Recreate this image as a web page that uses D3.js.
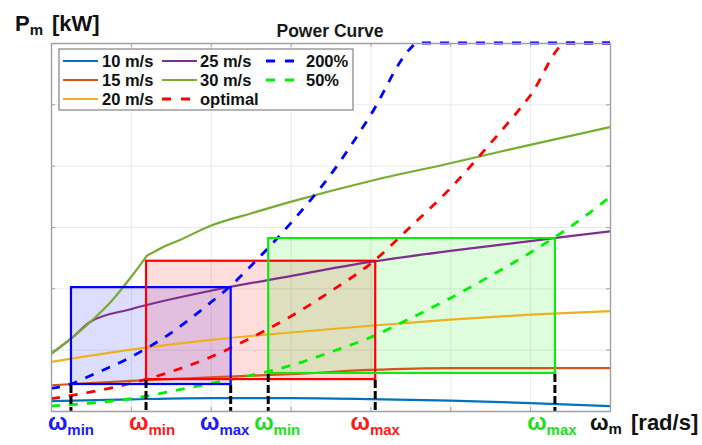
<!DOCTYPE html>
<html>
<head>
<meta charset="utf-8">
<script src="https://cdn.jsdelivr.net/npm/d3@7"></script>
<style>
  body { margin: 0; background: #fff; }
  svg { display: block; font-family: "Liberation Sans", Arial, sans-serif; }
</style>
</head>
<body>
<svg id="chart" width="702" height="445"></svg>
<script>
// ---- power curves at constant wind speed: rotor speed ω [rad/s] vs power [kW] ----
const speedLabels = ["10 m/s", "15 m/s", "20 m/s", "25 m/s", "30 m/s"];

const omegaGrid = [0, 10, 20, 30, 40, 50, 60, 70];
const p10 = [16, 19, 21, 21, 19.5, 17, 13, 8];
const p15 = [42, 49, 55, 60, 67, 70, 70, 70];
const p20 = [80, 100, 116, 128, 139, 149, 157, 163];

const omega25 = [0, 2.5, 5, 10, 20, 30, 40, 50, 60, 70];
const p25 = [93, 118, 146, 166, 196, 220, 243, 261, 277, 293];

const omega30 = [0, 2.5, 5, 7.5, 10, 12, 14, 16, 20, 25, 30, 40, 50, 60, 70];
const p30 = [93, 118, 146, 178, 218, 253, 267, 278, 302, 322, 341, 375, 404, 434, 463];
const kink30 = 12; // ω where the 30 m/s curve changes regime

// ---- optimal tracking curve and its 200% / 50% variants (capped at rated power) ----
const refLabels = ["optimal", "200%", "50%"];

const omegaOpt = [0, 5, 10, 15, 20, 25, 30, 35, 40, 45, 50, 55, 60, 64.6, 70];
const pOpt = [20, 31, 45, 64, 88, 119, 154, 195, 240, 300, 363, 436, 514, 600, 600];

const omega200 = [0, 2.5, 5, 10, 15, 20, 22.5, 25, 30, 35, 40, 45, 45.8, 70];
const p200 = [37, 44, 58, 88, 127, 177, 204, 236, 306, 385, 482, 591, 600, 600];

const omega50 = [0, 5, 10, 15, 20, 25, 30, 35, 40, 45, 50, 55, 60, 65, 70];
const p50 = [8, 13, 20, 32, 45, 58, 74, 96, 120, 151, 184, 220, 258, 300, 349];

// ---- operating windows (one per reference curve: 200%, optimal, 50%) ----
const windowNames = ["200%", "optimal", "50%"];
const wMin = [2.5, 11.9, 27.2];
const wMax = [22.5, 40.6, 63.1];
const pLow = [44, 52, 62];
const pHigh = [202, 245, 282];

// ---- axis ranges and gridlines ----
const omegaDomain = [0, 70];
const powerDomain = [0, 600];
const omegaTicks = [0, 10, 20, 30, 40, 50, 60, 70];
const powerTicks = [0, 100, 200, 300, 400, 500, 600];

// ---------------------------------------------------------------
const svg = d3.select("#chart");
const L = 51, R = 610, T = 43, B = 411;
const x = d3.scaleLinear().domain(omegaDomain).range([L, R]);
const y = d3.scaleLinear().domain(powerDomain).range([B, T]);

const colors = {
  "10 m/s": "#0072BD", "15 m/s": "#D95319", "20 m/s": "#EDB120",
  "25 m/s": "#7E2F8E", "30 m/s": "#77AC30",
  "optimal": "#ff0000", "200%": "#0000ff", "50%": "#00f000"
};
const labelColors = { "optimal": "#ff1a1a", "200%": "#1a1aff", "50%": "#22dd22" };

// gridlines
const grid = svg.append("g");
grid.append("g").attr("transform", `translate(0,${B})`)
  .call(d3.axisBottom(x).tickValues(omegaTicks).tickSize(-(B - T)).tickFormat(""));
grid.append("g").attr("transform", `translate(${L},0)`)
  .call(d3.axisLeft(y).tickValues(powerTicks).tickSize(-(R - L)).tickFormat(""));
grid.selectAll(".domain").remove();
grid.selectAll(".tick line").attr("stroke", "#e9e9e9").attr("stroke-width", 1);

// clip for the data curves
svg.append("defs").append("clipPath").attr("id", "plotclip")
  .append("rect").attr("x", L).attr("y", T - 4).attr("width", R - L).attr("height", B - T + 4);

// window fills
const fills = svg.append("g");
windowNames.forEach((n, i) => {
  fills.append("rect")
    .attr("x", x(wMin[i])).attr("y", y(pHigh[i]))
    .attr("width", x(wMax[i]) - x(wMin[i])).attr("height", y(pLow[i]) - y(pHigh[i]))
    .attr("fill", colors[n]).attr("fill-opacity", 0.135);
});

// curves
const line = d3.line().x(d => x(d[0])).y(d => y(d[1])).curve(d3.curveMonotoneX);
const zip = (a, b) => a.map((v, i) => [v, b[i]]);

const pts30 = zip(omega30, p30);
const solidSeries = [
  { name: "10 m/s", parts: [zip(omegaGrid, p10)] },
  { name: "15 m/s", parts: [zip(omegaGrid, p15)] },
  { name: "20 m/s", parts: [zip(omegaGrid, p20)] },
  { name: "25 m/s", parts: [zip(omega25, p25)] },
  // the 30 m/s curve has a sharp corner, so each side is smoothed separately
  { name: "30 m/s", parts: [pts30.filter(d => d[0] <= kink30), pts30.filter(d => d[0] >= kink30)] }
];
const dashedSeries = [
  { name: "optimal", pts: zip(omegaOpt, pOpt) },
  { name: "200%", pts: zip(omega200, p200) },
  { name: "50%", pts: zip(omega50, p50) }
];

const curves = svg.append("g").attr("clip-path", "url(#plotclip)");
solidSeries.forEach(s => {
  s.parts.forEach(p => {
    curves.append("path").attr("d", line(p))
      .attr("fill", "none").attr("stroke", colors[s.name]).attr("stroke-width", 2.2)
      .attr("stroke-linecap", "round");
  });
});
dashedSeries.forEach(s => {
  curves.append("path").attr("d", line(s.pts))
    .attr("fill", "none").attr("stroke", colors[s.name]).attr("stroke-width", 2.8)
    .attr("stroke-dasharray", "9,9");
});

// window outlines
const outlines = svg.append("g");
windowNames.forEach((n, i) => {
  outlines.append("rect")
    .attr("x", x(wMin[i])).attr("y", y(pHigh[i]))
    .attr("width", x(wMax[i]) - x(wMin[i])).attr("height", y(pLow[i]) - y(pHigh[i]))
    .attr("fill", "none").attr("stroke", n === "50%" ? "#14e614" : colors[n]).attr("stroke-width", 2.2);
});

// black dashed drop lines from each window's lower corners
const drops = svg.append("g");
windowNames.forEach((n, i) => {
  [wMin[i], wMax[i]].forEach(w => {
    drops.append("line")
      .attr("x1", x(w)).attr("x2", x(w))
      .attr("y1", y(pLow[i]) + 1).attr("y2", B)
      .attr("stroke", "#000").attr("stroke-width", 3).attr("stroke-dasharray", "8,3");
  });
});

// axis frame with inward ticks, no tick labels
const frame = svg.append("g");
const styleAxis = g => {
  g.selectAll(".domain").attr("stroke", "#a0a0a0").attr("stroke-width", 1.4);
  g.selectAll(".tick line").attr("stroke", "#a0a0a0").attr("stroke-width", 1);
};
frame.append("g").attr("transform", `translate(0,${B})`)
  .call(d3.axisBottom(x).tickValues(omegaTicks).tickSize(-4).tickSizeOuter(0).tickFormat("")).call(styleAxis);
frame.append("g").attr("transform", `translate(0,${T})`)
  .call(d3.axisTop(x).tickValues(omegaTicks).tickSize(-4).tickSizeOuter(0).tickFormat("")).call(styleAxis);
frame.append("g").attr("transform", `translate(${L},0)`)
  .call(d3.axisLeft(y).tickValues(powerTicks).tickSize(-4).tickSizeOuter(0).tickFormat("")).call(styleAxis);
frame.append("g").attr("transform", `translate(${R},0)`)
  .call(d3.axisRight(y).tickValues(powerTicks).tickSize(-4).tickSizeOuter(0).tickFormat("")).call(styleAxis);

// legend (column-major, three rows)
const legendItems = [
  { name: "10 m/s", dashed: false }, { name: "15 m/s", dashed: false }, { name: "20 m/s", dashed: false },
  { name: "25 m/s", dashed: false }, { name: "30 m/s", dashed: false }, { name: "optimal", dashed: true },
  { name: "200%", dashed: true }, { name: "50%", dashed: true }
];
const lg = svg.append("g");
lg.append("rect").attr("x", 59).attr("y", 49).attr("width", 294).attr("height", 61)
  .attr("fill", "#fff").attr("stroke", "#6a6a6a").attr("stroke-width", 1);
const colSample = [63, 162, 266], colText = [102, 200, 306], rowY = [61, 80, 99];
legendItems.forEach((it, i) => {
  const c = Math.floor(i / 3), r = i % 3;
  lg.append("line")
    .attr("x1", colSample[c]).attr("x2", colSample[c] + 35)
    .attr("y1", rowY[r]).attr("y2", rowY[r])
    .attr("stroke", colors[it.name]).attr("stroke-width", it.dashed ? 2.8 : 2.2)
    .attr("stroke-dasharray", it.dashed ? "9,10" : null);
  lg.append("text").attr("x", colText[c]).attr("y", rowY[r] + 6)
    .attr("font-size", "16.5px").attr("font-weight", "bold").attr("fill", "#111")
    .text(it.name);
});

// title
svg.append("text").attr("x", 330).attr("y", 37).attr("text-anchor", "middle")
  .attr("font-size", "17.5px").attr("font-weight", "bold").attr("fill", "#1a1a1a")
  .text("Power Curve");

// y-axis label
const yl = svg.append("text").attr("x", 15).attr("y", 31)
  .attr("font-weight", "bold").attr("fill", "#111");
yl.append("tspan").attr("font-size", "22px").text("P");
yl.append("tspan").attr("font-size", "15px").attr("dy", 4).text("m");
yl.append("tspan").attr("font-size", "22px").attr("x", 52).attr("dy", -4).text("[kW]");

// x-axis label
const xl = svg.append("text").attr("x", 590).attr("y", 430)
  .attr("font-weight", "bold").attr("fill", "#111");
xl.append("tspan").attr("font-size", "22px").text("ω");
xl.append("tspan").attr("font-size", "15px").attr("dy", 4).text("m");
xl.append("tspan").attr("font-size", "22px").attr("x", 631).attr("dy", -4).text("[rad/s]");

// ω_min / ω_max markers under the axis
const marks = [];
windowNames.forEach((n, i) => {
  marks.push({ w: wMin[i], sub: "min", name: n });
  marks.push({ w: wMax[i], sub: "max", name: n });
});
marks.sort((a, b) => a.w - b.w);
const nudge = [0, 6, -6, 9, 0, -3];
marks.forEach((m, k) => {
  const t = svg.append("text").attr("x", x(m.w) + nudge[k]).attr("y", 430)
    .attr("text-anchor", "middle").attr("font-weight", "bold").attr("fill", labelColors[m.name]);
  t.append("tspan").attr("font-size", "23px").text("ω");
  t.append("tspan").attr("font-size", "15px").attr("dy", 5).text(m.sub);
});
</script>
</body>
</html>
